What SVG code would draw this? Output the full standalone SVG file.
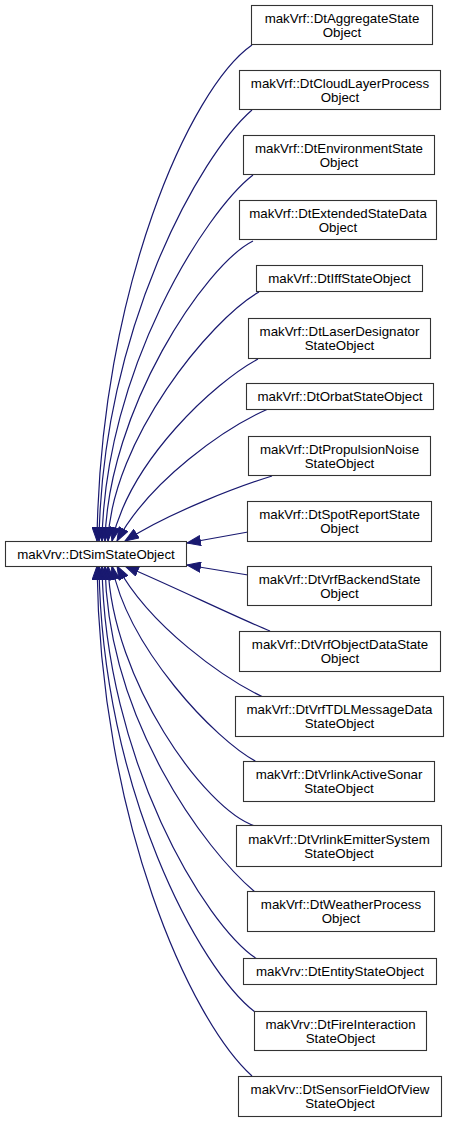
<svg xmlns="http://www.w3.org/2000/svg" width="451" height="1121" viewBox="0 0 451 1121">
<style>
.n rect{fill:#fff;stroke:#333;stroke-width:1.1}
.n text{font-family:"Liberation Sans",Arial,Helvetica,sans-serif;font-size:13.3px;fill:#000;text-anchor:middle}
.e path{fill:none;stroke:#191970;stroke-width:1.2}
</style>
<defs>
<marker id="ah" markerUnits="userSpaceOnUse" markerWidth="15" markerHeight="11" viewBox="0 0 15 11" refX="14" refY="5.5" orient="auto">
<path d="M0.5,0.5 L14,5.5 L0.5,10.5 Z" fill="#191970" stroke="#191970" stroke-width="1"/>
</marker>
</defs>
<rect width="451" height="1121" fill="#fff"/>
<g id="edges" class="e">
<path marker-end="url(#ah)" d="M252,45 C190,88 100,290 97,541"/>
<path marker-end="url(#ah)" d="M252,110 C200,155 102,330 99,541"/>
<path marker-end="url(#ah)" d="M253,175 C205,212 105,370 102,541"/>
<path marker-end="url(#ah)" d="M253,241 C205,265 108,410 105,541"/>
<path marker-end="url(#ah)" d="M259,292 C210,320 112,440 108,541"/>
<path marker-end="url(#ah)" d="M258,359 C215,382 130,460 112,541"/>
<path marker-end="url(#ah)" d="M268,409 C225,428 150,480 117,541"/>
<path marker-end="url(#ah)" d="M272,476 C240,486 170,512 125,541"/>
<path marker-end="url(#ah)" d="M248,532 L187,543"/>
<path marker-end="url(#ah)" d="M248,575 L187,565"/>
<path marker-end="url(#ah)" d="M270,631 C240,619 170,585 125,566"/>
<path marker-end="url(#ah)" d="M263,697 C225,679 150,627 117,566"/>
<path marker-end="url(#ah)" d="M257,762 C215,740 128,648 112,566"/>
<path marker-end="url(#ah)" d="M255,826 C205,810 112,680 108,566"/>
<path marker-end="url(#ah)" d="M255,892 C205,850 108,720 105,566"/>
<path marker-end="url(#ah)" d="M257,959 C205,925 105,760 102,566"/>
<path marker-end="url(#ah)" d="M255,1012 C200,970 102,790 99,566"/>
<path marker-end="url(#ah)" d="M252,1076 C190,1020 100,820 97,566"/>
</g>
<g id="main" class="n"><rect x="5.5" y="541.5" width="181" height="25"/><text x="96" y="558.5">makVrv::DtSimStateObject</text></g>
<g id="n1" class="n"><rect x="251.5" y="5.5" width="181" height="39"/><text x="342" y="23">makVrf::DtAggregateState</text><text x="342" y="37">Object</text></g>
<g id="n2" class="n"><rect x="239.5" y="70.5" width="201" height="39"/><text x="340" y="88">makVrf::DtCloudLayerProcess</text><text x="340" y="102">Object</text></g>
<g id="n3" class="n"><rect x="243.5" y="135.5" width="191" height="39"/><text x="339" y="153">makVrf::DtEnvironmentState</text><text x="339" y="167">Object</text></g>
<g id="n4" class="n"><rect x="239.5" y="200.5" width="197" height="39"/><text x="338" y="218">makVrf::DtExtendedStateData</text><text x="338" y="232">Object</text></g>
<g id="n5" class="n"><rect x="256.5" y="265.5" width="166" height="26"/><text x="339.5" y="283">makVrf::DtIffStateObject</text></g>
<g id="n6" class="n"><rect x="248.5" y="318.5" width="182" height="40"/><text x="339.5" y="336">makVrf::DtLaserDesignator</text><text x="339.5" y="350">StateObject</text></g>
<g id="n7" class="n"><rect x="246.5" y="383.5" width="187" height="26"/><text x="340" y="401">makVrf::DtOrbatStateObject</text></g>
<g id="n8" class="n"><rect x="248.5" y="436.5" width="182" height="39"/><text x="339.5" y="454">makVrf::DtPropulsionNoise</text><text x="339.5" y="468">StateObject</text></g>
<g id="n9" class="n"><rect x="247.5" y="501.5" width="184" height="40"/><text x="339.5" y="519">makVrf::DtSpotReportState</text><text x="339.5" y="533">Object</text></g>
<g id="n10" class="n"><rect x="247.5" y="566.5" width="184" height="39"/><text x="339.5" y="584">makVrf::DtVrfBackendState</text><text x="339.5" y="598">Object</text></g>
<g id="n11" class="n"><rect x="239.5" y="631.5" width="201" height="40"/><text x="340" y="649">makVrf::DtVrfObjectDataState</text><text x="340" y="663">Object</text></g>
<g id="n12" class="n"><rect x="235.5" y="696.5" width="208" height="40"/><text x="339.5" y="714">makVrf::DtVrfTDLMessageData</text><text x="339.5" y="728">StateObject</text></g>
<g id="n13" class="n"><rect x="243.5" y="761.5" width="191" height="40"/><text x="339" y="779">makVrf::DtVrlinkActiveSonar</text><text x="339" y="793">StateObject</text></g>
<g id="n14" class="n"><rect x="236.5" y="825.5" width="205" height="41"/><text x="339" y="844">makVrf::DtVrlinkEmitterSystem</text><text x="339" y="858">StateObject</text></g>
<g id="n15" class="n"><rect x="247.5" y="891.5" width="187" height="40"/><text x="341" y="909">makVrf::DtWeatherProcess</text><text x="341" y="923">Object</text></g>
<g id="n16" class="n"><rect x="243.5" y="958.5" width="193" height="26"/><text x="340" y="976">makVrv::DtEntityStateObject</text></g>
<g id="n17" class="n"><rect x="254.5" y="1011.5" width="172" height="39"/><text x="340.5" y="1029">makVrv::DtFireInteraction</text><text x="340.5" y="1043">StateObject</text></g>
<g id="n18" class="n"><rect x="238.5" y="1076.5" width="203" height="40"/><text x="340" y="1094">makVrv::DtSensorFieldOfView</text><text x="340" y="1108">StateObject</text></g>
</svg>
